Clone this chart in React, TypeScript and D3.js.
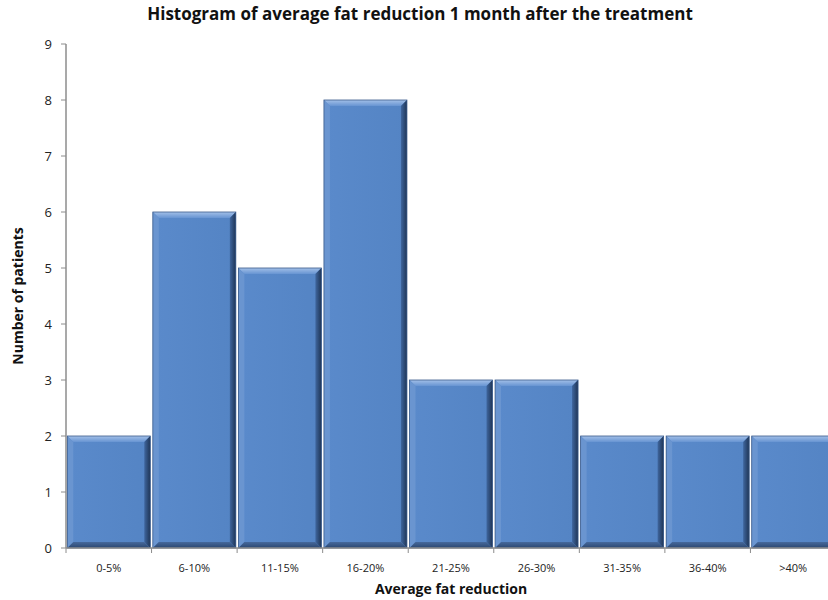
import React from "react";
import * as d3 from "d3";

const categories = ["0-5%", "6-10%", "11-15%", "16-20%", "21-25%", "26-30%", "31-35%", "36-40%", ">40%"];
const counts = [2, 6, 5, 8, 3, 3, 2, 2, 2];
const yTicks = [0, 1, 2, 3, 4, 5, 6, 7, 8, 9];

const W = 828;
const H = 600;
const margin = { left: 66, top: 44, bottom: 52, right: -8 };
const font = "'Open Sans', 'Noto Sans', sans-serif";

export default function App() {
  const x = d3
    .scaleBand<string>()
    .domain(categories)
    .range([margin.left, W - margin.right])
    .paddingInner(0.03)
    .paddingOuter(0.015);
  const y = d3.scaleLinear().domain([0, 9]).range([H - margin.bottom, margin.top]);
  const step = x.step();
  const x0 = margin.left;
  const bevel = 6;

  return (
    <svg width={W} height={H} style={{ position: "absolute", left: 0, top: 0, background: "#fff" }}>
      <defs>
        <linearGradient id="topBevel" x1="0" y1="0" x2="0" y2="1">
          <stop offset="0%" stopColor="#a3c0e8" />
          <stop offset="100%" stopColor="#6794d2" />
        </linearGradient>
        <linearGradient id="rightBevel" x1="0" y1="0" x2="1" y2="0">
          <stop offset="0%" stopColor="#3f669e" />
          <stop offset="100%" stopColor="#1f3556" />
        </linearGradient>
        <linearGradient id="bottomBevel" x1="0" y1="0" x2="0" y2="1">
          <stop offset="0%" stopColor="#46699c" />
          <stop offset="100%" stopColor="#2a4670" />
        </linearGradient>
        <linearGradient id="face" x1="0" y1="0" x2="1" y2="0">
          <stop offset="0%" stopColor="#5a8acb" />
          <stop offset="100%" stopColor="#5484c4" />
        </linearGradient>
      </defs>

      <text
        x={W / 2 + 6}
        y={20}
        textAnchor="middle"
        fontFamily={font}
        fontWeight="bold"
        fontSize={17}
        fill="#111"
      >
        Histogram of average fat reduction 1 month after the treatment
      </text>

      {categories.map((c, i) => {
        const bx = x(c)!;
        const bw = x.bandwidth();
        const top = y(counts[i]);
        const bot = y(0);
        const r = bx + bw;
        const b = bevel;
        return (
          <g key={c}>
            <rect x={bx} y={top} width={bw} height={bot - top} fill="url(#face)" />
            <polygon points={`${bx},${top} ${r},${top} ${r - b},${top + b} ${bx + b},${top + b}`} fill="url(#topBevel)" />
            <polygon points={`${bx},${top} ${bx + b},${top + b} ${bx + b},${bot - b} ${bx},${bot}`} fill="#6a95d0" />
            <polygon points={`${r},${top} ${r},${bot} ${r - b},${bot - b} ${r - b},${top + b}`} fill="url(#rightBevel)" />
            <polygon points={`${bx},${bot} ${r},${bot} ${r - b},${bot - b} ${bx + b},${bot - b}`} fill="url(#bottomBevel)" />
            <rect x={bx} y={top} width={bw} height={bot - top} fill="none" stroke="#3b5b8a" strokeWidth={0.8} />
          </g>
        );
      })}

      {/* y axis */}
      <line x1={x0} x2={x0} y1={y(9)} y2={y(0)} stroke="#8c8c8c" strokeWidth={1.5} />
      {yTicks.map((t) => (
        <g key={t}>
          <line x1={x0 - 5} x2={x0} y1={y(t)} y2={y(t)} stroke="#8c8c8c" strokeWidth={1} />
          <text
            x={x0 - 14}
            y={y(t)}
            dy="0.35em"
            textAnchor="end"
            fontFamily={font}
            fontSize={13}
            fill="#222"
          >
            {t}
          </text>
        </g>
      ))}

      {/* x axis */}
      <line x1={x0} x2={W} y1={y(0)} y2={y(0)} stroke="#8c8c8c" strokeWidth={1.5} />
      {categories.map((c, i) => (
        <g key={c}>
          <line
            x1={x0 + i * step}
            x2={x0 + i * step}
            y1={y(0)}
            y2={y(0) + 5}
            stroke="#8c8c8c"
            strokeWidth={1}
          />
          <text
            x={x0 + i * step + step / 2}
            y={y(0) + 24}
            textAnchor="middle"
            fontFamily={font}
            fontSize={11}
            fill="#222"
          >
            {c}
          </text>
        </g>
      ))}

      <text
        x={(x0 + W - margin.right) / 2}
        y={594}
        textAnchor="middle"
        fontFamily={font}
        fontWeight="bold"
        fontSize={14}
        fill="#111"
      >
        Average fat reduction
      </text>
      <text
        transform={`translate(23, ${(y(0) + y(9)) / 2}) rotate(-90)`}
        textAnchor="middle"
        fontFamily={font}
        fontWeight="bold"
        fontSize={14}
        fill="#111"
      >
        Number of patients
      </text>
    </svg>
  );
}
